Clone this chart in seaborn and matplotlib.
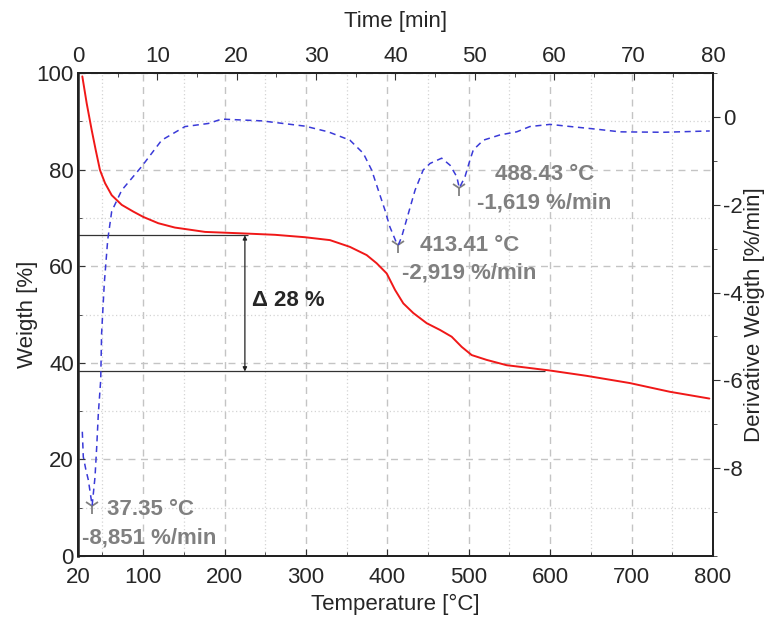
import numpy as np
import pandas as pd
import matplotlib
matplotlib.use("Agg")
import matplotlib.pyplot as plt
import seaborn as sns
from matplotlib.ticker import MultipleLocator

# weight curve (red), temperature in C, weight in %
temp_w = [25.3, 30.7, 36.8, 41.7, 47, 53.2, 61.4, 73.7, 88, 100.2, 118.6, 139, 159.7,
          176, 221, 262, 298.8, 329.5, 354, 374.6, 386.9, 399.2, 409.4, 419.6, 431.9,
          448.3, 464.7, 479, 491.3, 503.6, 522, 546.6, 571.1, 599.8, 644.8, 698, 747,
          795.5]
weight = [99.3, 93.7, 88.2, 84.1, 79.9, 77.2, 74.7, 72.7, 71.3, 70.2, 68.9, 68.0, 67.5,
          67.1, 66.8, 66.5, 66.0, 65.4, 64.0, 62.3, 60.6, 58.5, 55.1, 52.3, 50.3,
          48.2, 46.8, 45.4, 43.3, 41.6, 40.6, 39.5, 39.0, 38.4, 37.3, 35.8, 34.0,
          32.6]

# derivative curve (blue dashed), %/min
temp_d = [25.3, 26.5, 29.5, 32.7, 37.35, 40.9, 43, 45, 47.9, 49, 52.3, 56.5, 61.4,
          73.7, 98.2, 122.8, 151.4, 180, 196.5, 245.6, 298.8, 327.4, 354, 370.5,
          380.7, 388.9, 397, 403, 411.5, 413.41, 417.6, 425.8, 434, 444, 452.4, 466.7,
          477, 485.2, 488.43, 495.4, 501.5, 505.6, 517.9, 538.4, 558.9, 575, 599.8,
          620, 657, 685.7, 739, 796]
deriv = [-7.17, -7.74, -8.02, -8.27, -8.851, -8.2, -7.51, -6.75, -5.99, -4.93, -3.79,
         -2.8, -2.15, -1.67, -1.13, -0.53, -0.22, -0.15, -0.05, -0.09, -0.21, -0.34,
         -0.53, -0.83, -1.21, -1.67, -2.12, -2.5, -2.88, -2.919, -2.73, -2.2, -1.67,
         -1.21, -1.06, -0.94, -1.1, -1.36, -1.619, -1.36, -0.98, -0.75, -0.53, -0.41,
         -0.34, -0.22, -0.17, -0.21, -0.28, -0.34, -0.35, -0.32]

# peaks
peak_t = [37.35, 413.41, 488.43]
peak_d = [-8.851, -2.919, -1.619]
peak_lbl = [("37.35 °C", "-8,851 %/min"), ("413.41 °C", "-2,919 %/min"),
            ("488.43 °C", "-1,619 %/min")]
lbl_pos = [((55.6, -8.95), (25, -9.59)), ((440, -2.92), (417.6, -3.56)),
           ((532, -1.32), (509.7, -1.97))]

# weight loss step
upper_level, lower_level = 66.4, 38.2
upper_end, lower_end = 229, 594
arrow_t = 225

sns.set_style("ticks")
plt.rcParams["font.family"] = ["Liberation Sans", "DejaVu Sans"]
plt.rcParams["font.size"] = 16
plt.rcParams["axes.unicode_minus"] = False

fig = plt.figure(figsize=(7.67, 6.23), dpi=100)
ax = fig.add_axes([78 / 767, 1 - 556 / 623, 635 / 767, 483 / 623])

df_w = pd.DataFrame({"T": temp_w, "W": weight})
df_d = pd.DataFrame({"T": temp_d, "D": deriv})

ax.set_xlim(20, 800)
ax.set_ylim(0, 100)
ax.xaxis.set_major_locator(MultipleLocator(100))
ax.xaxis.set_minor_locator(MultipleLocator(50))
ax.yaxis.set_major_locator(MultipleLocator(20))
ax.yaxis.set_minor_locator(MultipleLocator(10))
ax.set_xticks([20] + list(range(100, 801, 100)))
ax.grid(which="major", color="#c4c4c4", ls=(0, (5, 4)), lw=1)
ax.grid(which="minor", color="#d4d4d4", ls=(0, (1, 2)), lw=0.9)
ax.tick_params(which="both", direction="in", top=True, right=True, labelsize=16,
               color="#333333")
ax.tick_params(axis="x", pad=8)
ax.tick_params(axis="y", pad=3)
ax.tick_params(which="major", length=5)
ax.tick_params(which="minor", length=3)

sns.lineplot(data=df_w, x="T", y="W", ax=ax, color="#f01818", lw=1.4, zorder=4)

ax.hlines(upper_level, 20, upper_end, color="#333333", lw=0.9, zorder=3)
ax.hlines(lower_level, 20, lower_end, color="#333333", lw=0.9, zorder=3)
ax.annotate("", xy=(arrow_t, lower_level), xytext=(arrow_t, upper_level),
            arrowprops=dict(arrowstyle="<|-|>", color="#222222", lw=0.9,
                            mutation_scale=6, shrinkA=0, shrinkB=0))
ax.text(arrow_t + 9, (upper_level + lower_level) / 2 + 0.5, "Δ 28 %",
        fontsize=16, fontweight="bold", va="center", ha="left")

ax.set_xlabel("Temperature [°C]", fontsize=16, labelpad=4)
ax.set_ylabel("Weigth [%]", fontsize=16, labelpad=-1)

ax2 = ax.twinx()
ax2.set_ylim(-10, 1)
ax2.yaxis.set_minor_locator(MultipleLocator(1))
ax2.set_yticks([0, -2, -4, -6, -8])
ax2.tick_params(which="both", direction="out", labelsize=16, color="#333333", pad=2)
ax2.tick_params(which="major", length=5)
ax2.tick_params(which="minor", length=3)
sns.lineplot(data=df_d, x="T", y="D", ax=ax2, color="#3a3ad8", lw=1.1,
             dashes=False, zorder=3)
ax2.lines[0].set_linestyle((0, (4, 3)))
ax2.plot(peak_t, peak_d, ls="none", marker="1", ms=11, mew=1.3, color="#808080")
for (l1, l2), (p1, p2) in zip(peak_lbl, lbl_pos):
    ax2.text(p1[0], p1[1], l1, color="#808080", fontsize=16, fontweight="bold",
             va="center", ha="left")
    ax2.text(p2[0], p2[1], l2, color="#808080", fontsize=16, fontweight="bold",
             va="center", ha="left")
ax2.set_ylabel("Derivative Weigth [%/min]", fontsize=16, labelpad=1)
ax2.set_xlabel("")

ax3 = ax.twiny()
ax3.set_xlim(0, 80)
ax3.xaxis.set_major_locator(MultipleLocator(10))
ax3.xaxis.set_minor_locator(MultipleLocator(5))
ax3.tick_params(which="both", direction="in", labelsize=16, color="#333333", pad=4)
ax3.tick_params(which="major", length=5)
ax3.tick_params(which="minor", length=3)
ax3.set_xlabel("Time [min]", fontsize=16, labelpad=14)

for a in (ax, ax2, ax3):
    for s in a.spines.values():
        s.set_linewidth(1.3)
        s.set_color("#222222")
ax.spines["left"].set_color("#444444")
ax.spines["left"].set_linewidth(2)

fig.savefig("out.png", dpi=100)
